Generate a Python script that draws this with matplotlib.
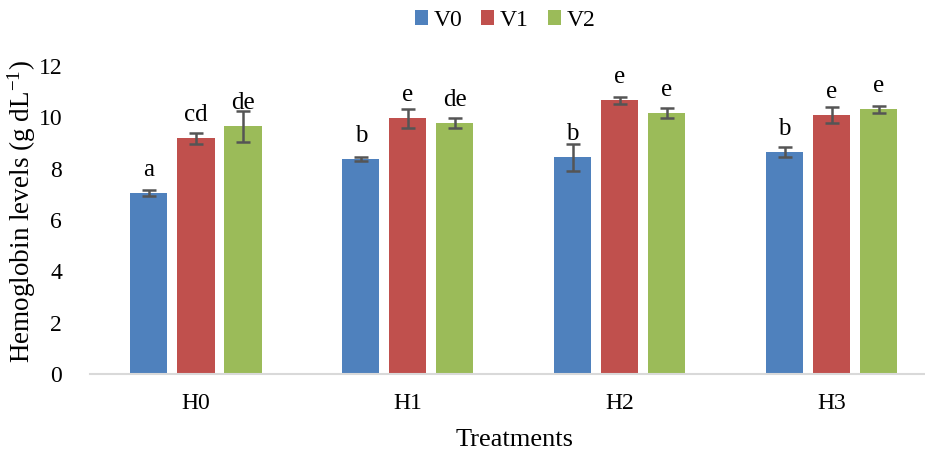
import matplotlib.pyplot as plt
import numpy as np

plt.rcParams['font.family'] = ['Liberation Serif', 'DejaVu Serif']
plt.rcParams['mathtext.fontset'] = 'custom'
plt.rcParams['mathtext.rm'] = 'Liberation Serif'

# Data
treatments = ['H0', 'H1', 'H2', 'H3']
series = ['V0', 'V1', 'V2']
v0 = [7.05, 8.38, 8.44, 8.65]
v1 = [9.18, 9.96, 10.66, 10.10]
v2 = [9.65, 9.78, 10.17, 10.31]
v0_err = [0.10, 0.09, 0.53, 0.18]
v1_err = [0.22, 0.36, 0.13, 0.32]
v2_err = [0.60, 0.21, 0.21, 0.14]
v0_letters = ['a', 'b', 'b', 'b']
v1_letters = ['cd', 'e', 'e', 'e']
v2_letters = ['de', 'de', 'e', 'e']

values = [v0, v1, v2]
errors = [v0_err, v1_err, v2_err]
letters = [v0_letters, v1_letters, v2_letters]
colors = ['#4f81bd', '#c0504d', '#9bbb59']

fig = plt.figure(figsize=(9.25, 4.51), dpi=100)
ax = fig.add_axes([0.0973, 0.1707, 0.9027, 0.683])

x = np.arange(len(treatments))
width = 0.175
step = 0.222

for i, (vals, errs, labs) in enumerate(zip(values, errors, letters)):
    pos = x + (i - 1) * step
    ax.bar(pos, vals, width, color=colors[i], label=series[i],
           yerr=errs, capsize=5,
           error_kw=dict(ecolor='#555555', elinewidth=1.8, capthick=1.8))
    # letters sit at a fixed offset above the bar top (like Excel data labels)
    for p, v, t in zip(pos, vals, labs):
        ax.text(p, v + 0.67, t, ha='center', va='baseline', fontsize=18)

ax.set_xlim(-0.5, 3.44)
ax.set_ylim(0, 12)
ax.set_yticks(range(0, 13, 2))
ax.set_xticks(x)
ax.set_xticklabels(treatments)
ax.tick_params(axis='both', length=0, labelsize=17)
ax.tick_params(axis='x', pad=14)
ax.tick_params(axis='y', pad=20)

for s in ['top', 'right', 'left']:
    ax.spines[s].set_visible(False)
ax.spines['bottom'].set_color('#d9d9d9')
ax.spines['bottom'].set_linewidth(1.5)

ax.set_xlabel('Treatments', fontsize=19)
ax.xaxis.set_label_coords(0.508, -0.18)
ax.set_ylabel('Hemoglobin levels (g dL$\\mathregular{^{-1}}$)', fontsize=19.5)
ax.yaxis.set_label_coords(-0.062, 0.526)

ax.legend(loc='center', bbox_to_anchor=(0.546, 0.955), bbox_transform=fig.transFigure,
          ncol=3, frameon=False, fontsize=17, handlelength=0.55, handleheight=0.65,
          handletextpad=0.25, columnspacing=0.8)

fig.savefig('out.png', dpi=100)
